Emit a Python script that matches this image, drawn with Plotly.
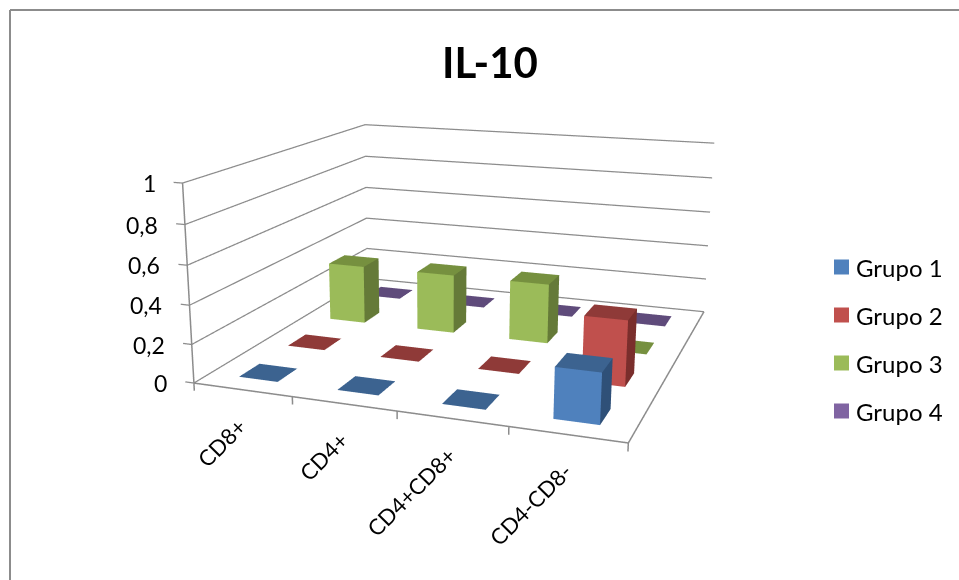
import plotly.graph_objects as go

categories = ["CD8+", "CD4+", "CD4+CD8+", "CD4-CD8-"]
series_names = ["Grupo 1", "Grupo 2", "Grupo 3", "Grupo 4"]
grupo_1 = [0, 0, 0, 0.25]
grupo_2 = [0, 0, 0, 0.34]
grupo_3 = [0.33, 0.33, 0.33, 0]
grupo_4 = [0, 0, 0, 0]
z_ticks = [0, 0.2, 0.4, 0.6, 0.8, 1]
z_labels = ["0", "0,2", "0,4", "0,6", "0,8", "1"]
front_colors = ["#4F81BD", "#C0504D", "#9BBB59", "#8064A2"]
top_colors = ["#3C6390", "#8F3A38", "#76903F", "#5F4B7B"]
side_colors = ["#2F5078", "#7A2E2C", "#657A38", "#4F3E66"]
values = [grupo_1, grupo_2, grupo_3, grupo_4]

# The scene needs a longer focal length than a 580 px viewport gives at plotly's
# fixed 45 degree field of view, so the figure is taller and the page is offset.
W = 959
H_DOM = 1013
CENTER_X = 437
SHIFT = 216

GRID = "#8C8C8C"
FONT = "Lato"
SCENE_X = (-0.25, 4.25)
SCENE_Y = (-0.25, 4.25)
SCENE_Z = (-0.05, 1.05)


def wx(x):
    return x / W


def wy(y):
    return 1 - (y + SHIFT) / H_DOM


fig = go.Figure()


def line(xs, ys, zs, width=2.5):
    fig.add_trace(go.Scatter3d(x=xs, y=ys, z=zs, mode="lines", line=dict(color=GRID, width=width),
                               hoverinfo="skip", showlegend=False))


n_cat = len(categories)
n_ser = len(series_names)

# Wall gridlines with their tick on the value axis
for z in z_ticks:
    line([-0.09, 0, 0, n_cat], [0, 0, n_ser, n_ser], [z, z, z, z])
# Value axis, floor edges and category ticks
line([0, 0], [0, 0], [0, 1], 3)
line([0, n_cat, n_cat], [0, 0, n_ser], [0, 0, 0], 3)
for k in range(n_cat + 1):
    line([k, k], [0, 0], [0, -0.04], 3)

# One box per value: front, top and right faces, each with its own shade
for s, vals in enumerate(values):
    X, Y, Z, I, J, K, FC = [], [], [], [], [], [], []
    for k, v in enumerate(vals):
        x0, x1, y0, y1 = k + 0.3, k + 0.7, s + 0.3, s + 0.7
        b = len(X)
        X += [x0, x1, x1, x0, x0, x1, x1, x0]
        Y += [y0, y0, y1, y1, y0, y0, y1, y1]
        Z += [0, 0, 0, 0, v, v, v, v]
        faces = [((0, 1, 5), front_colors), ((0, 5, 4), front_colors),
                 ((4, 5, 6), top_colors), ((4, 6, 7), top_colors),
                 ((1, 2, 6), side_colors), ((1, 6, 5), side_colors)]
        for (a, c, d), cols in faces:
            I.append(b + a)
            J.append(b + c)
            K.append(b + d)
            FC.append(cols[s])
    fig.add_trace(go.Mesh3d(x=X, y=Y, z=Z, i=I, j=J, k=K, facecolor=FC, flatshading=True,
                            name=series_names[s], hoverinfo="skip", showlegend=False,
                            lighting=dict(ambient=1, diffuse=0, specular=0, roughness=1, fresnel=0)))

scene_notes = []
for z, lab in zip(z_ticks, z_labels):
    scene_notes.append(dict(x=0, y=0, z=z, text=lab, showarrow=False, xanchor="right", yanchor="middle",
                            xshift=-25, font=dict(family=FONT, size=23, color="black")))
for k, lab in enumerate(categories):
    scene_notes.append(dict(x=k + 0.5, y=0, z=0, text=lab, showarrow=False, textangle=-45,
                            xanchor="right", yanchor="top", xshift=12, yshift=-20,
                            font=dict(family=FONT, size=22, color="black")))

shapes = [
    dict(type="line", xref="paper", yref="paper", x0=wx(10), x1=1, y0=wy(10), y1=wy(10),
         line=dict(color=GRID, width=2)),
    dict(type="line", xref="paper", yref="paper", x0=wx(10), x1=wx(10), y0=wy(10), y1=wy(580),
         line=dict(color=GRID, width=2)),
]
notes = [dict(x=wx(490), y=wy(62), xref="paper", yref="paper", text="<b>IL-10</b>", showarrow=False,
              yanchor="middle", font=dict(family=FONT, size=42, color="black"))]
for s, name in enumerate(series_names):
    yc = 267 + 48 * s
    shapes.append(dict(type="rect", xref="paper", yref="paper", x0=wx(834), x1=wx(849),
                       y0=wy(yc - 7.5), y1=wy(yc + 7.5), fillcolor=front_colors[s], line=dict(width=0)))
    notes.append(dict(x=wx(854), y=wy(yc), xref="paper", yref="paper", text=name, showarrow=False,
                      xanchor="left", yanchor="middle", font=dict(family=FONT, size=24, color="black")))

axis = dict(visible=False, showspikes=False)
fig.update_layout(
    width=W, height=H_DOM, margin=dict(l=0, r=0, t=0, b=0), paper_bgcolor="white", showlegend=False,
    shapes=shapes, annotations=notes,
    scene=dict(
        domain=dict(x=[0, 2 * CENTER_X / W], y=[0, 1]),
        xaxis=dict(axis, range=SCENE_X), yaxis=dict(axis, range=SCENE_Y), zaxis=dict(axis, range=SCENE_Z),
        aspectmode="manual", aspectratio=dict(x=1.6, y=1.5723, z=0.722),
        camera=dict(eye=dict(x=1.3364, y=-3.9192, z=1.0245),
                    center=dict(x=-0.1041, y=-0.0749, z=-0.1205),
                    up=dict(x=0.0028, y=0.001, z=1)),
        annotations=scene_notes,
    ),
)

page_offset = ("document.documentElement.style.overflow='hidden';"
               "document.body.style.overflow='hidden';"
               "document.body.style.height='580px';"
               "document.getElementById('{plot_id}').style.marginTop='-%dpx';" % SHIFT)
fig.write_html("out.html", post_script=page_offset)
